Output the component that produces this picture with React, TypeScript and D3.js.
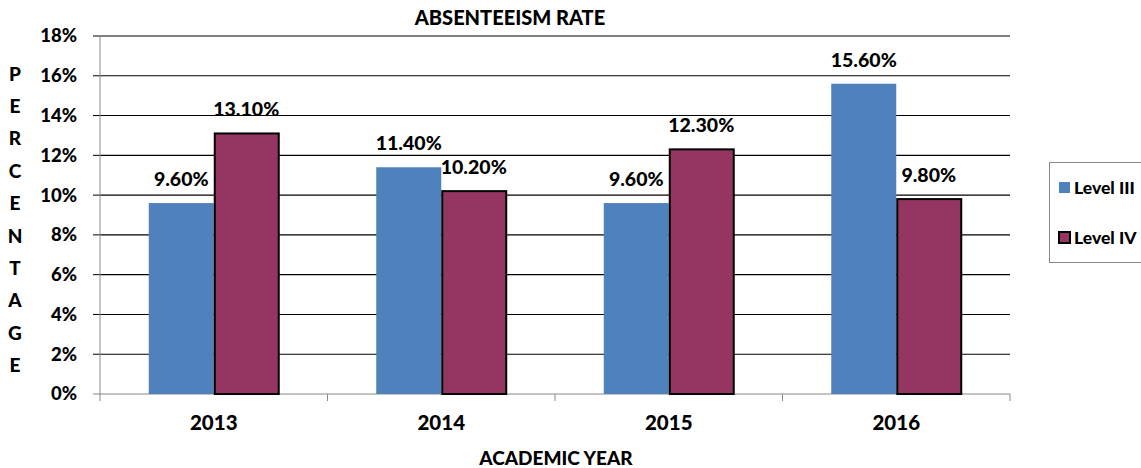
import React from "react";
import * as d3 from "d3";

const categories = ["2013", "2014", "2015", "2016"];
const series = ["Level III", "Level IV"];
const levelIII = [9.6, 11.4, 9.6, 15.6];
const levelIV = [13.1, 10.2, 12.3, 9.8];
const yTicks = [0, 2, 4, 6, 8, 10, 12, 14, 16, 18];
const yTitle = "PERCENTAGE".split("");
const colors = ["#4F81BD", "#953562"];

const W = 1141;
const H = 468;
const FONT = "Lato, 'Open Sans', sans-serif";
const WEIGHT = 900;

export default function App() {
  const left = 100, right = 1010, top = 36, bottom = 394;
  const x = d3.scaleBand<string>().domain(categories).range([left, right]).padding(0);
  const groupW = 130;
  const xInner = d3.scaleBand<string>().domain(series).range([0, groupW]).padding(0);
  const y = d3.scaleLinear().domain([0, 18]).range([bottom, top]);
  const values = [levelIII, levelIV];

  return (
    <svg width={W} height={H} style={{ position: "absolute", left: 0, top: 0, fontFamily: FONT }} fontWeight={WEIGHT}>
      <rect width={W} height={H} fill="#fff" />
      {/* title */}
      <text x={510} y={18} dy="0.35em" textAnchor="middle" fontSize={20}>ABSENTEEISM RATE</text>
      {/* gridlines */}
      {yTicks.map((t) => (
        <g key={t}>
          {t > 0 && <line x1={left} x2={right} y1={y(t)} y2={y(t)} stroke="#000" strokeWidth={1.1} />}
          <line x1={left - 7} x2={left} y1={y(t)} y2={y(t)} stroke={t > 0 ? "#000" : "#888"} strokeWidth={1} />
          <text x={left - 23} y={y(t)} dy="0.35em" textAnchor="end" fontSize={18.5}>{t}%</text>
        </g>
      ))}
      {/* axes */}
      <line x1={left} x2={left} y1={top} y2={bottom} stroke="#888" strokeWidth={1} />
      <line x1={left} x2={right} y1={bottom} y2={bottom} stroke="#888" strokeWidth={1} />
      {[...categories.map((c) => x(c)!), right].map((px, i) => (
        <line key={i} x1={px} x2={px} y1={bottom} y2={bottom + 7} stroke="#888" strokeWidth={1} />
      ))}
      {/* bars */}
      {categories.map((c, ci) => {
        const gx = x(c)! + (x.bandwidth() - groupW) / 2;
        return (
          <g key={c}>
            {series.map((s, si) => {
              const v = values[si][ci];
              const bx = gx + xInner(s)!;
              const bw = xInner.bandwidth();
              return (
                <g key={s}>
                  <rect
                    x={si === 1 ? bx + 1 : bx}
                    y={y(v)}
                    width={si === 1 ? bw - 1 : bw}
                    height={bottom - y(v)}
                    fill={colors[si]}
                    stroke={si === 1 ? "#000" : "none"}
                    strokeWidth={si === 1 ? 2 : 0}
                  />
                  <text x={bx + bw / 2} y={y(v) - 24} dy="0.35em" textAnchor="middle" fontSize={19.5}>
                    {v.toFixed(2)}%
                  </text>
                </g>
              );
            })}
            <text x={x(c)! + x.bandwidth() / 2} y={423} dy="0.35em" textAnchor="middle" fontSize={20.5}>{c}</text>
          </g>
        );
      })}
      {/* y title */}
      {yTitle.map((ch, i) => (
        <text key={i} x={15} y={74 + i * 32.4} dy="0.35em" textAnchor="middle" fontSize={19}>{ch}</text>
      ))}
      <text x={556} y={458} dy="0.35em" textAnchor="middle" fontSize={19}>ACADEMIC YEAR</text>
      {/* legend */}
      <rect x={1049.5} y={162.5} width={100} height={100} fill="#fff" stroke="#888" strokeWidth={1} />
      {series.map((s, si) => (
        <g key={s}>
          <rect
            x={1059}
            y={si === 0 ? 182 : 232}
            width={11}
            height={11}
            fill={colors[si]}
            stroke={si === 1 ? "#000" : "none"}
            strokeWidth={si === 1 ? 2 : 0}
          />
          <text x={1074} y={si === 0 ? 188 : 238} dy="0.35em" fontSize={17.5}>{s}</text>
        </g>
      ))}
    </svg>
  );
}
